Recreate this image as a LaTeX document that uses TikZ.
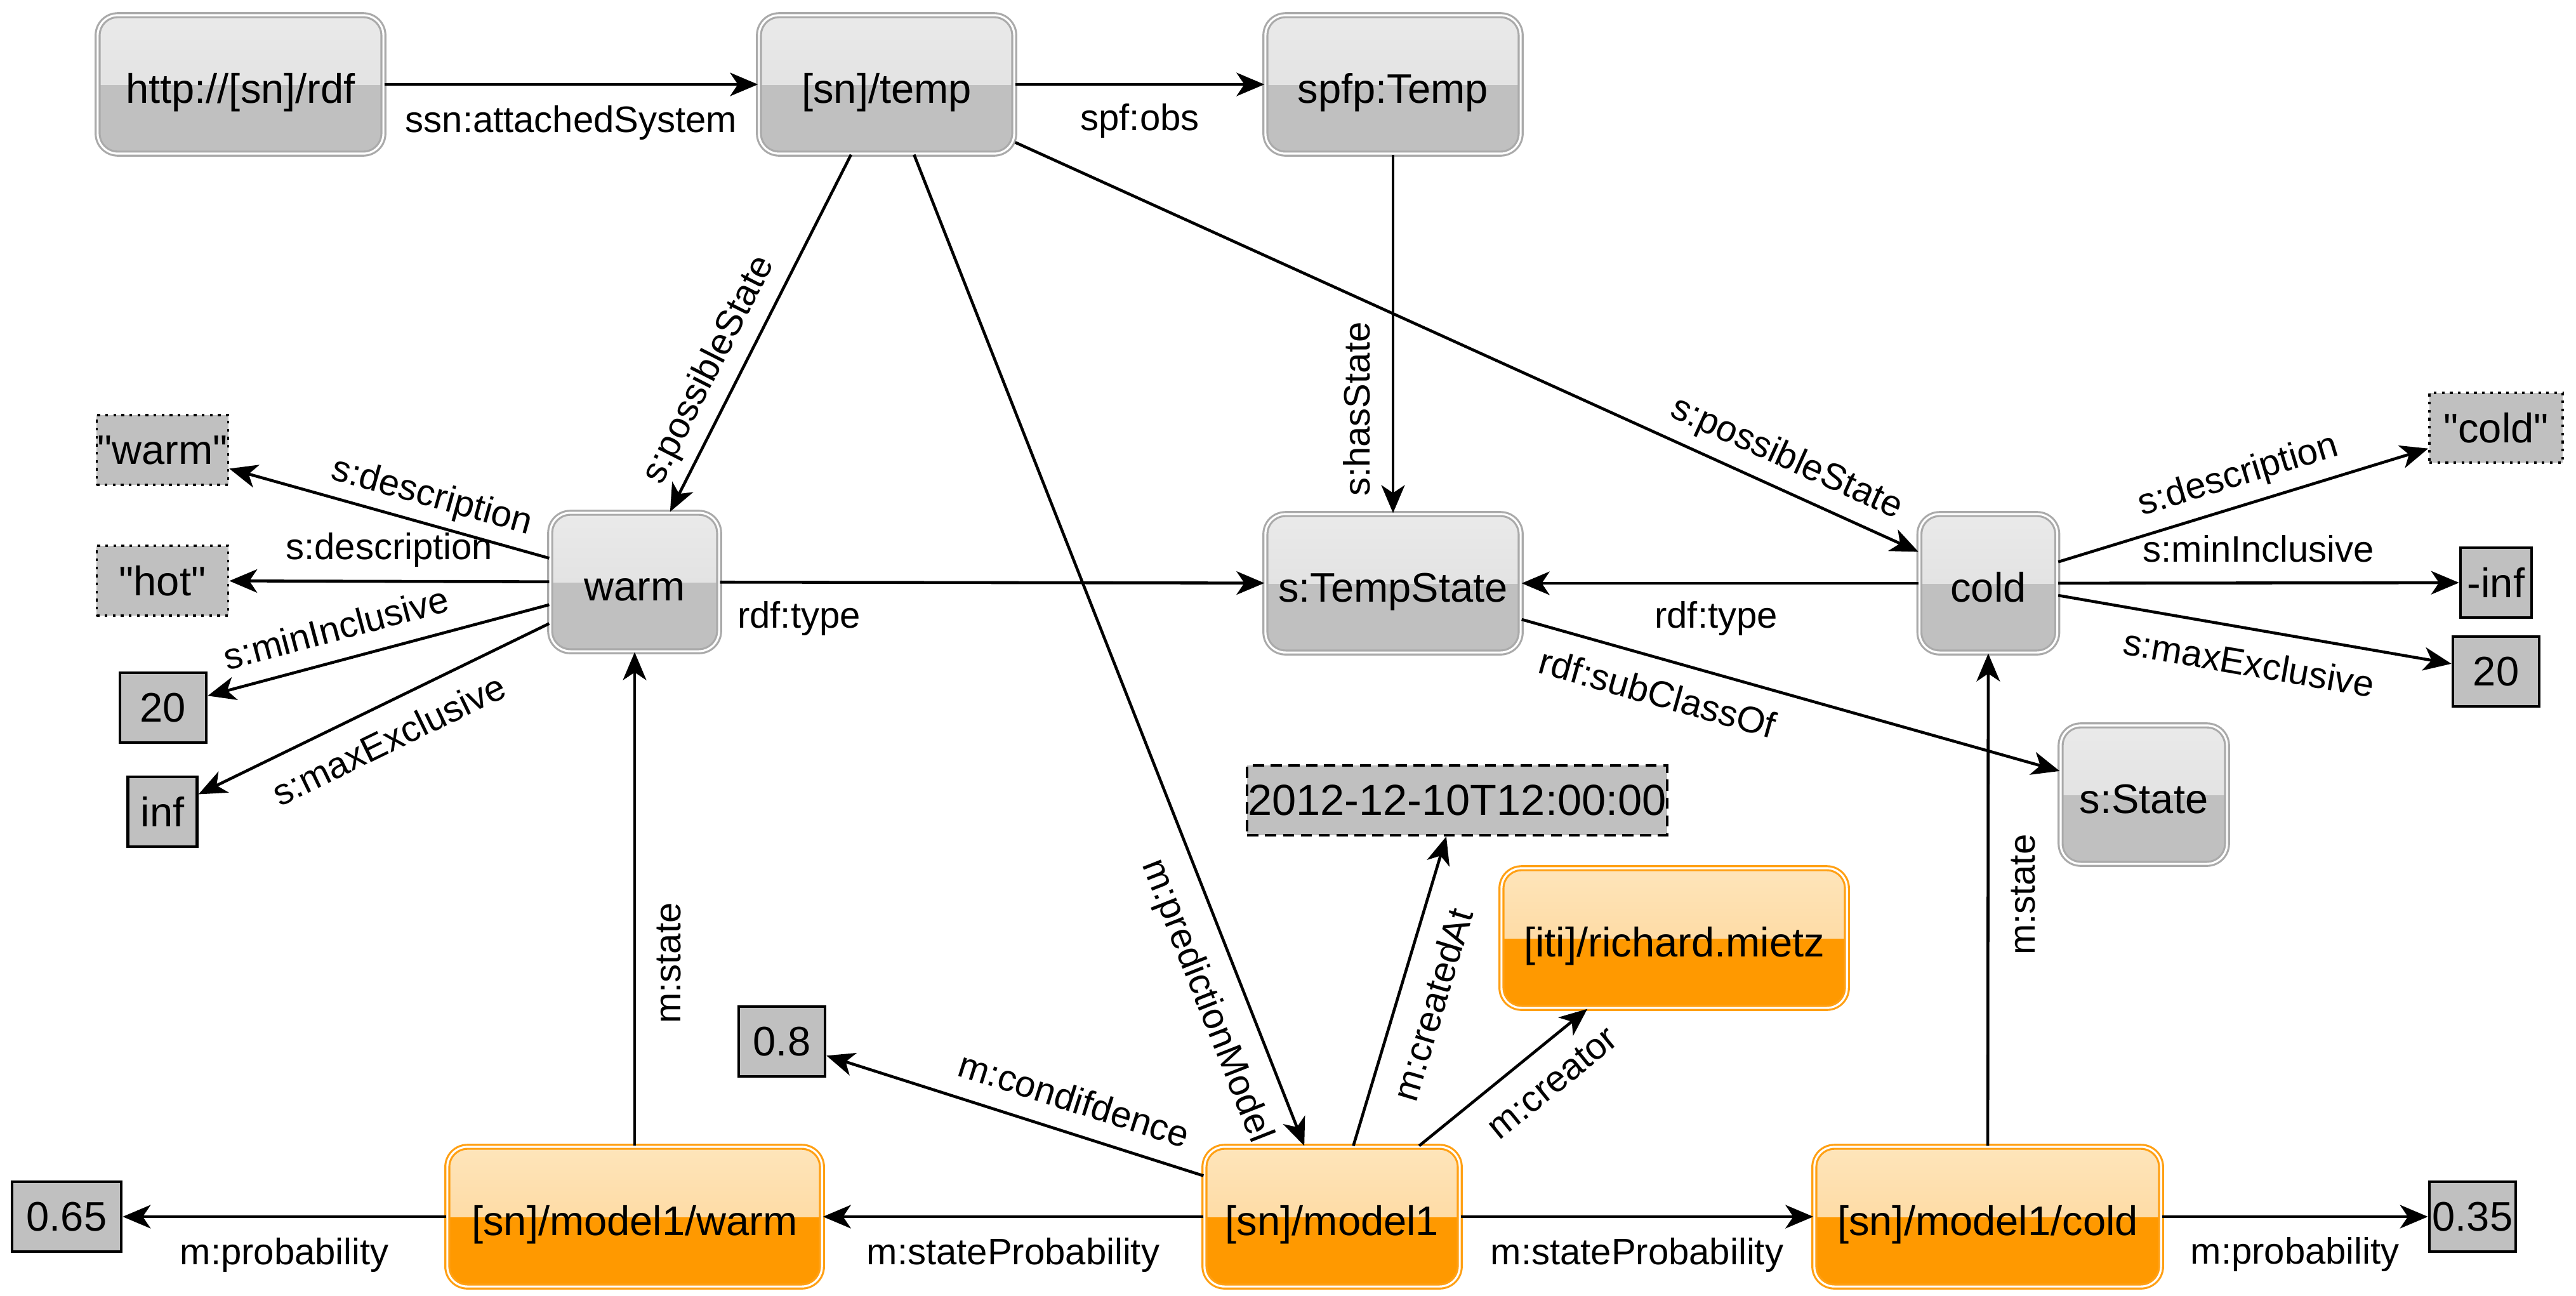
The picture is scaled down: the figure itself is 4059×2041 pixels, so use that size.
\documentclass[tikz,border=0pt]{standalone}
\usepackage{fontspec}
\setmainfont{Liberation Sans}
\usetikzlibrary{arrows.meta}

\definecolor{resgray}{RGB}{192,192,192}
\definecolor{restop}{RGB}{234,234,234}
\definecolor{resmid}{RGB}{220,220,220}
\definecolor{resline}{RGB}{170,170,170}
\definecolor{modorange}{RGB}{255,153,0}
\definecolor{modtop}{RGB}{254,229,186}
\definecolor{modmid}{RGB}{253,210,146}
\definecolor{modline}{RGB}{255,160,20}

\newcommand{\qtext}[1]{\textquotedbl#1\textquotedbl}

\tikzset{
  box/.style={rectangle, rounded corners=9pt, inner sep=0pt, minimum height=2.18cm,
    double=white, double distance=0.9pt, line width=0.9pt,
    text height=17pt, text depth=0.5pt,
    font=\fontsize{18.5}{22}\selectfont},
  res/.style={box, fill=resgray, draw=resline,
    path picture={\shade[sharp corners, top color=restop, bottom color=resmid]
      (path picture bounding box.north west) rectangle (path picture bounding box.east);}},
  model/.style={box, fill=modorange, draw=modline, minimum height=2.2cm,
    path picture={\shade[sharp corners, top color=modtop, bottom color=modmid]
      (path picture bounding box.north west) rectangle (path picture bounding box.east);}},
  lit/.style={rectangle, inner sep=0pt, minimum height=1.1cm, fill=resgray, draw=black,
    line width=1.3pt, font=\fontsize{18.5}{22}\selectfont},
  desc/.style={lit, line width=1pt, dash pattern=on 1.2pt off 2.4pt},
  stamp/.style={lit, line width=1.1pt, dash pattern=on 5pt off 3pt, font=\fontsize{19.5}{24}\selectfont},
  rel/.style={-{Stealth[length=12.5pt, width=10.5pt, inset=3.5pt]}, line width=1.3pt},
  lbl/.style={font=\fontsize{16.5}{20}\selectfont, inner sep=0pt, text height=12.4pt, text depth=4.1pt}
}

\begin{document}
\begin{tikzpicture}[x = 0.01cm, y = -0.01cm]
  \useasboundingbox (0,0) rectangle (4059,2041);
  % Recursos
  \node[res, minimum width=4.5cm] (rdf) at (379,133) {http://[sn]/rdf};
  \node[res, minimum width=4.02cm] (temp) at (1397,133) {[sn]/temp};
  \node[res, minimum width=4.02cm] (obs) at (2195,133) {spfp:Temp};
  \node[res, minimum width=2.66cm] (warm) at (1000,917) {warm};
  \node[res, minimum width=4.02cm] (tstate) at (2195,919) {s:TempState};
  \node[res, minimum width=2.17cm] (cold) at (3133,919) {cold};
  \node[res, minimum width=2.62cm] (state) at (3378,1252) {s:State};
  % Modelo
  \node[model, minimum width=5.9cm] (mwarm) at (1000,1917) {[sn]/model1/warm};
  \node[model, minimum width=4.02cm] (model) at (2099,1917) {[sn]/model1};
  \node[model, minimum width=5.46cm] (mcold) at (3132,1917) {[sn]/model1/cold};
  \node[model, minimum width=5.44cm] (author) at (2638,1478) {[iti]/richard.mietz};
  % Literales
  \node[desc, minimum width=2.07cm] (dwarm) at (256,709) {\qtext{warm}};
  \node[desc, minimum width=2.07cm] (dhot) at (256,915) {\qtext{hot}};
  \node[lit, minimum width=1.36cm] (wmin) at (257,1115) {20};
  \node[lit, minimum width=1.09cm] (wmax) at (256,1279) {inf};
  \node[desc, minimum width=2.1cm] (dcold) at (3933,674) {\qtext{cold}};
  \node[lit, minimum width=1.12cm] (cmin) at (3933,918) {-inf};
  \node[lit, minimum width=1.36cm] (cmax) at (3933,1058) {20};
  \node[stamp, minimum width=6.61cm] (date) at (2296,1261) {2012-12-10T12:00:00};
  \node[lit, minimum width=1.36cm] (conf) at (1232,1641) {0.8};
  \node[lit, minimum width=1.72cm] (pwarm) at (105,1917) {0.65};
  \node[lit, minimum width=1.36cm] (pcold) at (3896,1917) {0.35};

  % Relaciones
  \draw[rel] (rdf) -- node[lbl, below=8.5pt] {ssn:attachedSystem} (temp);
  \draw[rel] (temp) -- node[lbl, below=7.5pt] {spf:obs} (obs);
  \draw[rel] (temp) -- node[lbl, pos=.64, sloped, above=4pt] {s:possibleState} (warm);
  \draw[rel] (temp) -- node[lbl, pos=.84, sloped, below=8.5pt] {m:predictionModel} (model);
  \draw[rel] (temp) -- node[lbl, pos=.84, sloped, above=4.5pt] {s:possibleState} (cold);
  \draw[rel] (obs) -- node[lbl, pos=.71, rotate=90, anchor=south, inner ysep=5.7pt] {s:hasState} (tstate);
  \draw[rel] (warm) -- node[lbl, pos=.145, below=7.5pt] {rdf:type} (tstate);
  \draw[rel] (cold) -- node[lbl, pos=.51, below=7pt] {rdf:type} (tstate);
  \draw[rel] (tstate) -- node[lbl, pos=.27, sloped, below=8pt] {rdf:subClassOf} (state);
  % warm
  \draw[rel] (warm) -- node[lbl, pos=.39, sloped, above=3pt] {s:description} (dwarm);
  \draw[rel] (warm) -- node[lbl, above=5pt] {s:description} (dhot);
  \draw[rel] (warm) -- node[lbl, pos=.6, sloped, above=4pt] {s:minInclusive} (wmin);
  \draw[rel] (warm) -- node[lbl, sloped, below=8pt] {s:maxExclusive} (wmax);
  % cold
  \draw[rel] (cold) -- node[lbl, pos=.51, sloped, above=4pt] {s:description} (dcold);
  \draw[rel] (cold) -- node[lbl, above=4.5pt] {s:minInclusive} (cmin);
  \draw[rel] (cold) -- node[lbl, sloped, below=8pt] {s:maxExclusive} (cmax);
  % model1
  \draw[rel] (mwarm) -- node[lbl, pos=.37, rotate=90, anchor=north, inner ysep=7.5pt] {m:state} (warm);
  \draw[rel] (mcold) -- node[lbl, pos=.51, rotate=90, anchor=north, inner ysep=8pt] {m:state} (cold);
  \draw[rel] (model) -- node[lbl, below=8.5pt] {m:stateProbability} (mwarm);
  \draw[rel] (model) -- node[lbl, below=8.5pt] {m:stateProbability} (mcold);
  \draw[rel] (mwarm) -- node[lbl, below=8.5pt] {m:probability} (pwarm);
  \draw[rel] (mcold) -- node[lbl, below=8pt] {m:probability} (pcold);
  \draw[rel] (model) -- node[lbl, pos=.37, sloped, above=4.5pt] {m:condifdence} (conf);
  \draw[rel] (model) -- node[lbl, pos=.49, sloped, below=8.5pt] {m:createdAt} (date);
  \draw[rel] (model) -- node[lbl, pos=.66, sloped, below=8pt] {m:creator} (author);
\end{tikzpicture}
\end{document}
